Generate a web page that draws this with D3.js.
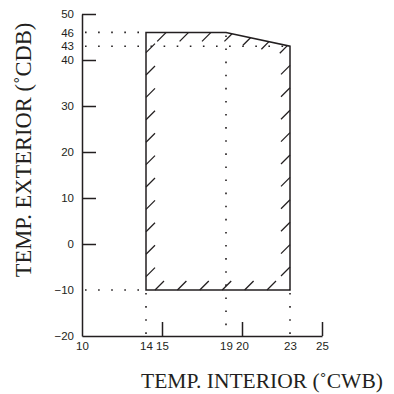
<!DOCTYPE html>
<html><head><meta charset="utf-8">
<script src="https://cdn.jsdelivr.net/npm/d3@7"></script>
<style>body{margin:0;background:#fff}svg{display:block}</style>
</head><body><svg id="c" width="394" height="394"></svg>
<script>
// ---- data ----
const xTickLabels = [10, 14, 15, 19, 20, 23, 25];
const xTickMarks = [15, 20, 25];
const yTickLabels = [-20, -10, 0, 10, 20, 30, 40, 43, 46, 50];
const yTickMarks = [0, 10, 20, 30, 40, 50];
const regionX = [14, 14, 19, 23, 23];
const regionY = [-10, 46, 46, 43, -10];
const xTitle = "TEMP. INTERIOR (˚CWB)";
const yTitle = "TEMP. EXTERIOR (˚CDB)";

const svg = d3.select("#c");
const x = d3.scaleLinear().domain([10, 25]).range([82, 322]);
const y = d3.scaleLinear().domain([-20, 50]).range([336, 14]);
const ink = "#231f20";

// axes
const yAxis = d3.axisLeft(y).tickValues(yTickLabels).tickSize(-14).tickSizeOuter(0).tickPadding(8);
const gy = svg.append("g").attr("transform", `translate(${x(10)},0)`).call(yAxis);
const xAxis = d3.axisBottom(x).tickValues(xTickLabels).tickSize(-14).tickSizeOuter(0).tickPadding(6);
const gx = svg.append("g").attr("transform", `translate(0,${y(-20)})`).call(xAxis);
[gx, gy].forEach(g => {
  g.select(".domain").attr("stroke", ink).attr("stroke-width", 1.5);
  g.selectAll(".tick text").attr("fill", ink).attr("font-family", "Liberation Sans, Arial, sans-serif").attr("font-size", 11.5);
  g.selectAll(".tick line").attr("stroke", ink).attr("stroke-width", 1.5);
});
gy.selectAll(".tick").filter(d => !yTickMarks.includes(d)).select("line").remove();
gx.selectAll(".tick").filter(d => !xTickMarks.includes(d)).select("line").remove();

// region polygon (pixel space)
const pts = regionX.map((v, i) => [x(v), y(regionY[i])]);
const cx = d3.mean(pts, p => p[0]), cy = d3.mean(pts, p => p[1]);

function edges(poly) {
  const n = poly.length, out = [];
  for (let i = 0; i < n; i++) {
    const a = poly[i], b = poly[(i + 1) % n];
    let dx = b[0] - a[0], dy = b[1] - a[1];
    const L = Math.hypot(dx, dy); dx /= L; dy /= L;
    let nx = -dy, ny = dx;
    if ((cx - a[0]) * nx + (cy - a[1]) * ny < 0) { nx = -nx; ny = -ny; }
    out.push({a, v: [dx, dy], n: [nx, ny]});
  }
  return out;
}
function inset(poly, d) {
  const E = edges(poly).map(e => ({p: [e.a[0] + e.n[0] * d, e.a[1] + e.n[1] * d], v: e.v}));
  const n = E.length, out = [];
  for (let i = 0; i < n; i++) {
    const l1 = E[(i - 1 + n) % n], l2 = E[i];
    const den = l1.v[0] * l2.v[1] - l1.v[1] * l2.v[0];
    const t = ((l2.p[0] - l1.p[0]) * l2.v[1] - (l2.p[1] - l1.p[1]) * l2.v[0]) / den;
    out.push([l1.p[0] + l1.v[0] * t, l1.p[1] + l1.v[1] * t]);
  }
  return out;
}
// interval of x where line x+y=c lies inside convex polygon
function clipLine(poly, c) {
  let lo = -1e9, hi = 1e9;
  for (const e of edges(poly)) {
    const k = e.n[0] - e.n[1];
    const m = -e.a[0] * e.n[0] + (c - e.a[1]) * e.n[1];
    if (Math.abs(k) < 1e-9) { if (m < 0) return null; continue; }
    const t = -m / k;
    if (k > 0) lo = Math.max(lo, t); else hi = Math.min(hi, t);
  }
  return lo < hi ? [lo, hi] : null;
}
const band = 9;
const inner = inset(pts, band);
const step = 22.4;
const c0 = pts[0][0] + band + pts[0][1];
const segs = [];
for (let c = c0 - step * 20; c < 700; c += step) {
  const o = clipLine(pts, c);
  if (!o) continue;
  const iv = clipLine(inner, c);
  if (!iv) segs.push([o[0], o[1], c]);
  else {
    if (iv[0] > o[0]) segs.push([o[0], iv[0], c]);
    if (o[1] > iv[1]) segs.push([iv[1], o[1], c]);
  }
}
svg.append("g").selectAll("line").data(segs).join("line")
  .attr("x1", d => d[0]).attr("y1", d => d[2] - d[0])
  .attr("x2", d => d[1]).attr("y2", d => d[2] - d[1])
  .attr("stroke", ink).attr("stroke-width", 1.3);

const ring = p => "M" + p.map(q => q.join(",")).join("L") + "Z";
svg.append("path").attr("d", ring(pts)).attr("fill", "none").attr("stroke", ink).attr("stroke-width", 1.5);

// dotted reference lines
const dots = [
  [[10, 46], [14, 46]],
  [[10, 43], [23, 43]],
  [[10, -10], [14, -10]],
  [[14, -10], [14, -20]],
  [[19, 46], [19, -20]],
  [[23, -10], [23, -20]]
];
svg.append("g").selectAll("line").data(dots).join("line")
  .attr("x1", d => x(d[0][0])).attr("y1", d => y(d[0][1]))
  .attr("x2", d => x(d[1][0])).attr("y2", d => y(d[1][1]))
  .attr("stroke", ink).attr("stroke-width", 1.6).attr("stroke-dasharray", "1.6,11.5").attr("stroke-dashoffset", -3);

// titles
svg.append("text").attr("x", 262).attr("y", 388).attr("text-anchor", "middle")
  .attr("font-family", "Liberation Serif, Times New Roman, serif").attr("font-size", 21.5).attr("fill", ink).text(xTitle);
svg.append("text").attr("transform", "translate(31,150) rotate(-90)").attr("text-anchor", "middle")
  .attr("font-family", "Liberation Serif, Times New Roman, serif").attr("font-size", 22.5).attr("fill", ink).text(yTitle);
</script></body></html>
